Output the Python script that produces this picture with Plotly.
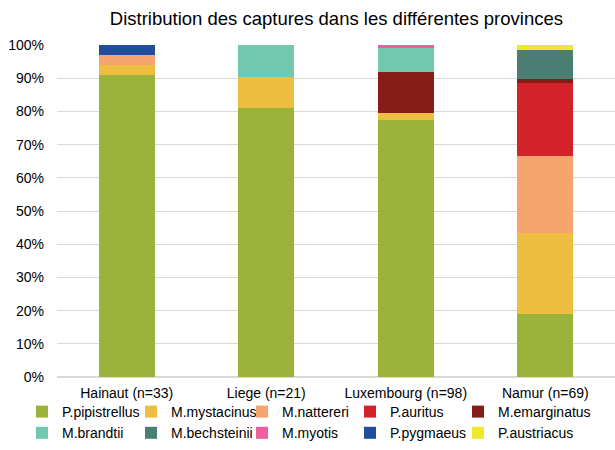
import plotly.graph_objects as go

# number of captures per species in each province
provinces = ["Hainaut (n=33)", "Liege (n=21)", "Luxembourg (n=98)", "Namur (n=69)"]
species = ["P.pipistrellus", "M.mystacinus", "M.nattereri", "P.auritus", "M.emarginatus",
           "M.brandtii", "M.bechsteinii", "M.myotis", "P.pygmaeus", "P.austriacus"]
captures = {
    "P.pipistrellus": [30, 17, 76, 13],
    "M.mystacinus": [1, 2, 2, 17],
    "M.nattereri": [1, 0, 0, 16],
    "P.auritus": [0, 0, 0, 15],
    "M.emarginatus": [0, 0, 12, 1],
    "M.brandtii": [0, 2, 7, 0],
    "M.bechsteinii": [0, 0, 0, 6],
    "M.myotis": [0, 0, 1, 0],
    "P.pygmaeus": [1, 0, 0, 0],
    "P.austriacus": [0, 0, 0, 1],
}
colors = ["#9BB33B", "#EDBE40", "#F6A46E", "#D4222B", "#851C18",
          "#70C8AE", "#4A7E72", "#EE5E9C", "#1E4E9C", "#EEE72B"]

# legend laid out as 5 columns of 2 rows, one small legend per column
col_left = [22, 131, 242, 350, 458]
legend_ids = ["legend", "legend2", "legend3", "legend4", "legend5"]

fig = go.Figure()
for i, (name, col) in enumerate(zip(species, colors)):
    fig.add_trace(go.Bar(x=provinces, y=captures[name], name=name,
                         marker=dict(color=col, line=dict(width=0)),
                         legend=legend_ids[i % 5]))

fig.update_layout(
    barmode="stack",
    barnorm="percent",
    bargap=0.6,
    width=615, height=450,
    margin=dict(l=57, r=0, t=45, b=73, autoexpand=False),
    paper_bgcolor="white", plot_bgcolor="white",
    font=dict(family="Liberation Sans, Arial, sans-serif", size=14, color="#000000"),
    title=dict(text="Distribution des captures dans les différentes provinces",
               x=0.547, xanchor="center", y=0.958, yanchor="middle",
               font=dict(size=18.5, color="#000000")),
)
for lid, left in zip(legend_ids, col_left):
    fig.update_layout({lid: dict(orientation="v", xref="container", yref="container",
                                 x=left / 615, y=0.12, xanchor="left", yanchor="top",
                                 traceorder="normal", font=dict(size=14),
                                 itemwidth=30, tracegroupgap=0,
                                 bgcolor="rgba(0,0,0,0)")})

fig.update_yaxes(range=[0, 100], dtick=10, ticksuffix="%", showgrid=True,
                 gridcolor="#D9D9D9", gridwidth=1, zeroline=True, zerolinecolor="#D9D9D9",
                 showline=False, ticklabelstandoff=12, automargin=False,
                 tickfont=dict(size=14))
fig.update_xaxes(showline=False, ticks="", ticklabelstandoff=6, automargin=False,
                 tickfont=dict(size=14))

# drop the default page margin so the figure sits at the window's corner
fig.write_html("out.html", config={"displayModeBar": False},
               post_script="document.body.style.margin='0';")
